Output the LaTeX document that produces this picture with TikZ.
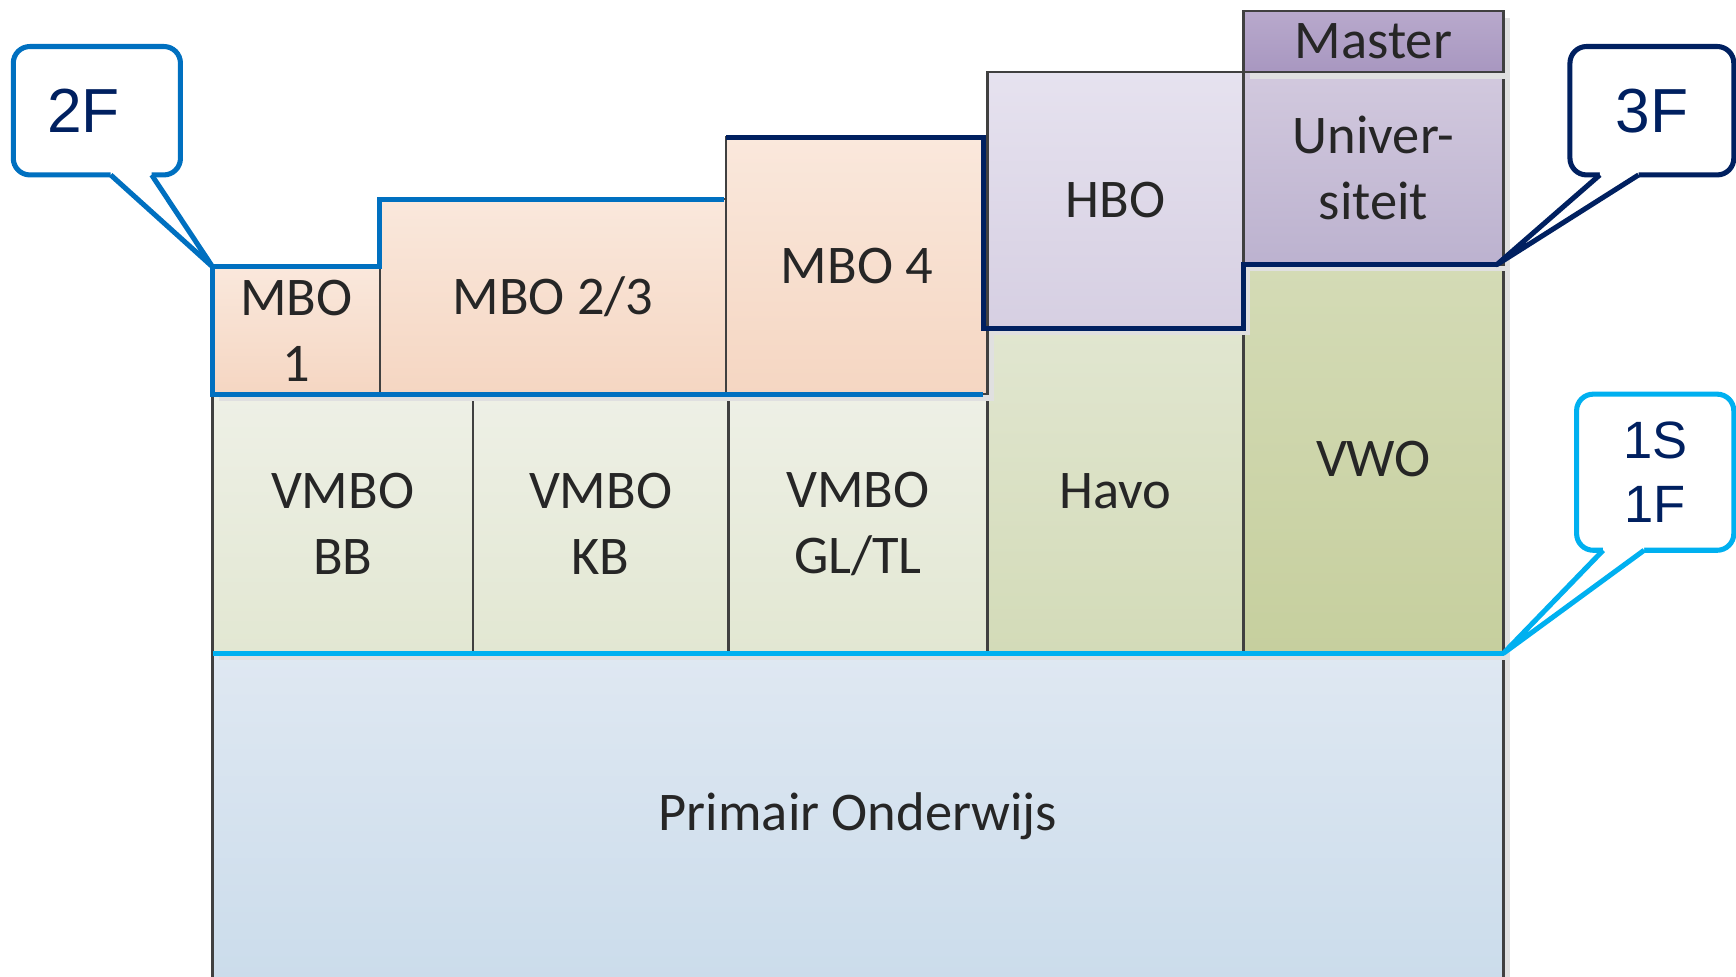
\documentclass[tikz,border=0pt]{standalone}
\usepackage{fontspec}
\setmainfont{Carlito}
\newfontfamily\calloutfont{Liberation Sans}
\usetikzlibrary{calc}
\usetikzlibrary{shadows}
\definecolor{boxline}{HTML}{404040}
\definecolor{lev2F}{HTML}{0070C0}
\definecolor{lev3F}{HTML}{002060}
\definecolor{lev1S}{HTML}{00B0F0}
\definecolor{poTop}{HTML}{DFE8F2}
\definecolor{poBot}{HTML}{CBDCEB}
\definecolor{vmTop}{HTML}{EEF0E6}
\definecolor{vmBot}{HTML}{E2E7D2}
\definecolor{haTop}{HTML}{E1E6D0}
\definecolor{haBot}{HTML}{D3DBB8}
\definecolor{vwTop}{HTML}{D4DBB6}
\definecolor{vwBot}{HTML}{C6CF9E}
\definecolor{mbTop}{HTML}{FAE8DC}
\definecolor{mbBot}{HTML}{F5D6C2}
\definecolor{hbTop}{HTML}{E6E2EF}
\definecolor{hbBot}{HTML}{D6CFE2}
\definecolor{unTop}{HTML}{D2C9DE}
\definecolor{unBot}{HTML}{BCB2CF}
\definecolor{maTop}{HTML}{B8A9CC}
\definecolor{maBot}{HTML}{A897C0}
\tikzset{stage/.style={draw=boxline, line width=0.6pt, anchor=south west,
    inner sep=0pt, outer sep=0pt, align=center, text=black!85,
    font=\fontsize{14}{17}\selectfont,
    general shadow={fill=black!12, shadow xshift=0.06cm, shadow yshift=-0.06cm}}}
\tikzset{bubble/.style={draw, fill=white, rounded corners=0.15cm, line width=1.3pt,
    inner sep=0pt, outer sep=0pt, align=center, text=lev3F,
    font=\calloutfont\fontsize{16}{19}\selectfont}}
\tikzset{level/.style={line width=1.3pt}}
\tikzset{tail/.style={line width=1.3pt, line join=round}}

\begin{document}
\begin{tikzpicture}
\useasboundingbox (0,0) rectangle (15.68,8.82);

% bottom row
\node[stage, minimum width=11.66cm, minimum height=2.95cm, top color=poTop, bottom color=poBot] (po) at (1.92,-0.03) {Primair Onderwijs};

% secondary
\node[stage, minimum width=2.35cm, minimum height=2.34cm, top color=vmTop, bottom color=vmBot] (vbb) at (1.92,2.92) {VMBO\\BB};
\node[stage, minimum width=2.31cm, minimum height=2.34cm, top color=vmTop, bottom color=vmBot] (vkb) at (4.27,2.92) {VMBO\\KB};
\node[stage, minimum width=2.34cm, minimum height=2.34cm, top color=vmTop, bottom color=vmBot] (vgl) at (6.58,2.92) {VMBO\\GL/TL};
\node[stage, minimum width=2.31cm, minimum height=2.93cm, top color=haTop, bottom color=haBot] (havo) at (8.92,2.92) {Havo};
\node[stage, minimum width=2.35cm, minimum height=3.51cm, top color=vwTop, bottom color=vwBot] (vwo) at (11.23,2.92) {VWO};

% vervolg
\node[stage, minimum width=1.51cm, minimum height=1.15cm, top color=mbTop, bottom color=mbBot] (mbo1) at (1.92,5.26) {MBO\\1};
\node[stage, minimum width=3.13cm, minimum height=1.76cm, top color=mbTop, bottom color=mbBot] (mbo23) at (3.43,5.26) {MBO 2/3};
\node[stage, minimum width=2.36cm, minimum height=2.32cm, top color=mbTop, bottom color=mbBot] (mbo4) at (6.56,5.26) {MBO 4};
\node[stage, minimum width=2.31cm, minimum height=2.32cm, top color=hbTop, bottom color=hbBot] (hbo) at (8.92,5.85) {HBO};
\node[stage, minimum width=2.35cm, minimum height=1.74cm, top color=unTop, bottom color=unBot] (uni) at (11.23,6.43) {Univer-\\siteit};
\node[stage, minimum width=2.35cm, minimum height=0.55cm, top color=maTop, bottom color=maBot] (master) at (11.23,8.17) {Master};

\coordinate (tip2F) at (mbo1.north west);
\coordinate (tip3F) at (13.52,6.43);
\coordinate (tip1S) at (po.north east);

% niveaulijnen
\draw[level, lev2F] ([xshift=-0.04cm]mbo4.south east) -| (mbo1.north west) -| (mbo23.north west) -- ([xshift=-0.02cm]mbo23.north east);
\draw[level, lev3F] (mbo4.north west) -- ([xshift=-0.04cm]mbo4.north east) |- (hbo.south east) |- (tip3F);
\draw[level, lev1S] (po.north west) -- (tip1S);

% callouts
\node[bubble, draw=lev2F, minimum width=1.51cm, minimum height=1.16cm] (b2F) at (0.875,7.82) {\hspace*{-0.24cm}2F};
\node[bubble, draw=lev3F, minimum width=1.48cm, minimum height=1.16cm] (b3F) at (14.92,7.82) {3F};
\node[bubble, draw=lev1S, minimum width=1.42cm, minimum height=1.41cm, font=\calloutfont\fontsize{13.5}{16.5}\selectfont] (b1S) at (14.95,4.555) {1S\\1F};

\fill[white] ($(b2F.south)+(0.125,0.06)$) -- ++(0,-0.06) -- (tip2F) -- ($(b2F.south)+(0.495,0)$) -- ++(0,0.06) -- cycle;
\draw[tail, lev2F] ($(b2F.south)+(0.125,0)$) -- (tip2F) -- ($(b2F.south)+(0.495,0)$);

\fill[white] ($(b3F.south)+(-0.47,0.06)$) -- ++(0,-0.06) -- (tip3F) -- ($(b3F.south)+(-0.12,0)$) -- ++(0,0.06) -- cycle;
\draw[tail, lev3F] ($(b3F.south)+(-0.47,0)$) -- (tip3F) -- ($(b3F.south)+(-0.12,0)$);

\fill[white] ($(b1S.south)+(-0.47,0.06)$) -- ++(0,-0.06) -- (tip1S) -- ($(b1S.south)+(-0.10,0)$) -- ++(0,0.06) -- cycle;
\draw[tail, lev1S] ($(b1S.south)+(-0.47,0)$) -- (tip1S) -- ($(b1S.south)+(-0.10,0)$);
\end{tikzpicture}
\end{document}
